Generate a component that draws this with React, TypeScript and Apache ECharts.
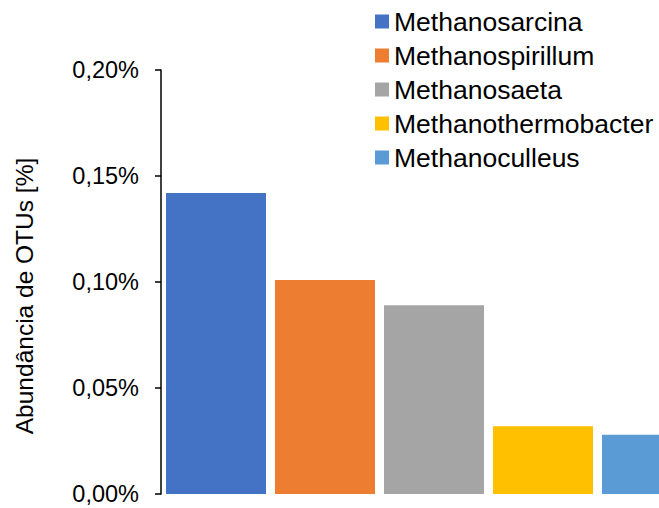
import React, { useEffect, useRef } from "react";
import * as echarts from "echarts";

const seriesNames = [
  "Methanosarcina",
  "Methanospirillum",
  "Methanosaeta",
  "Methanothermobacter",
  "Methanoculleus",
];
const seriesValues = [0.142, 0.101, 0.089, 0.032, 0.028];
const seriesColors = ["#4472C4", "#ED7D31", "#A5A5A5", "#FFC000", "#5B9BD5"];
const categories = [""];
const yTicks = [0, 0.05, 0.1, 0.15, 0.2];
const yTitle = "Abundância de OTUs [%]";

const FONT = "'Liberation Sans', Arial, sans-serif";

export default function App() {
  const ref = useRef<HTMLDivElement>(null);
  useEffect(() => {
    if (!ref.current) return;
    const chart = echarts.init(ref.current, null, { renderer: "svg" });
    chart.setOption({
      animation: false,
      backgroundColor: "#ffffff",
      textStyle: { fontFamily: FONT },
      grid: { left: 161, top: 70, bottom: 14, width: 546, containLabel: false, outerBoundsMode: "none" },
      legend: {
        orient: "vertical",
        left: 370,
        top: 3,
        itemWidth: 14,
        itemHeight: 14,
        itemGap: 7,
        icon: "rect",
        textStyle: { fontFamily: FONT, fontSize: 26.5, lineHeight: 27, color: "#000" },
        data: seriesNames,
      },
      xAxis: {
        type: "category",
        data: categories,
        axisLine: { show: false },
        axisTick: { show: false },
        axisLabel: { show: false },
      },
      yAxis: {
        type: "value",
        min: yTicks[0],
        max: yTicks[yTicks.length - 1],
        interval: 0.05,
        splitLine: { show: false },
        axisLine: { show: true, lineStyle: { color: "#000", width: 1.5 } },
        axisTick: { show: true, length: 6, lineStyle: { color: "#000", width: 1.5 } },
        axisLabel: {
          margin: 22,
          fontFamily: FONT,
          fontSize: 23.5,
          color: "#000",
          formatter: (v: number) => v.toFixed(2).replace(".", ",") + "%",
        },
      },
      graphic: [
        {
          type: "text",
          x: 24,
          y: 296,
          rotation: Math.PI / 2,
          style: {
            text: yTitle,
            fontFamily: FONT,
            fontSize: 24.5,
            fill: "#000",
            align: "center",
            verticalAlign: "middle",
          },
        },
      ],
      series: seriesNames.map((name, i) => ({
        name,
        type: "bar",
        barWidth: 100,
        barGap: "9%",
        itemStyle: { color: seriesColors[i] },
        data: [seriesValues[i]],
      })),
    });
    return () => chart.dispose();
  }, []);
  return (
    <div
      style={{
        position: "fixed",
        left: 0,
        top: 0,
        width: 659,
        height: 508,
        overflow: "hidden",
        background: "#fff",
      }}
    >
      <div ref={ref} style={{ position: "absolute", left: 0, top: 0, width: 720, height: 508 }} />
    </div>
  );
}
